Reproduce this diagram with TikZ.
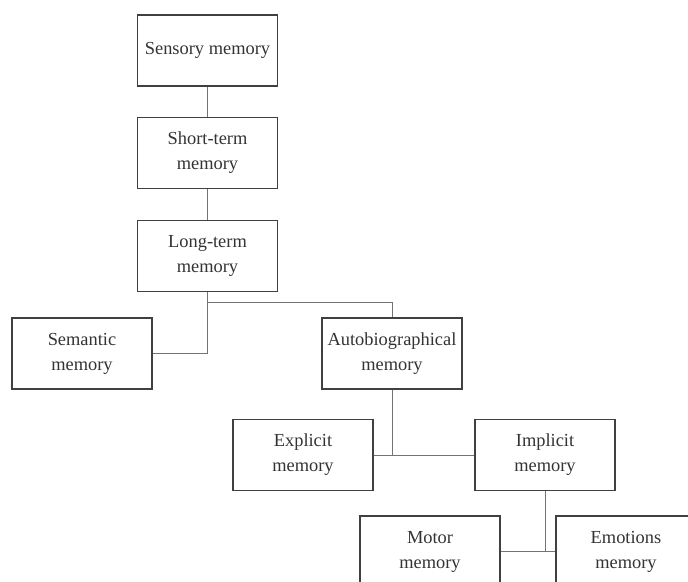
\documentclass[tikz,border=0pt]{standalone}
\usepackage{fontspec}
\setmainfont{Liberation Serif}
\begin{document}
\begin{tikzpicture}[x=1pt,y=1pt,
  box/.style={draw=black!75,line width=1.1pt,minimum width=140pt,minimum height=71pt,align=center,inner sep=2pt,font=\fontsize{18.4}{25}\selectfont,text=black!80},
  conn/.style={draw=black!55,line width=1pt}]
\useasboundingbox (0,0) rectangle (688,-581);
\clip (0,0) rectangle (688,-581);
\node[box] (sen) at (207.5,-50.5) {Sensory memory};
\node[box] (sho) at (207.5,-153) {Short-term\\memory};
\node[box] (lon) at (207.5,-256) {Long-term\\memory};
\node[box] (sem) at (82,-353.5) {Semantic\\memory};
\node[box] (aut) at (392,-353.5) {Autobiographical\\memory};
\node[box] (exp) at (303,-455) {Explicit\\memory};
\node[box] (imp) at (545,-455) {Implicit\\memory};
\node[box] (mot) at (430,-551.5) {Motor\\memory};
\node[box] (emo) at (626,-551.5) {Emotions\\memory};
\coordinate (br) at (lon.south |- 0,-302);
\draw[conn] (sen) -- (sho);
\draw[conn] (sho) -- (lon);
\draw[conn] (lon.south) |- (sem.east);
\draw[conn] (br) -| (aut.north);
\draw[conn] (aut.south) -- (aut.south |- exp.east);
\draw[conn] (exp.east) -- (imp.west);
\draw[conn] (imp.south) -- (imp.south |- mot.east);
\draw[conn] (mot.east) -- (emo.west);
\end{tikzpicture}
\end{document}
